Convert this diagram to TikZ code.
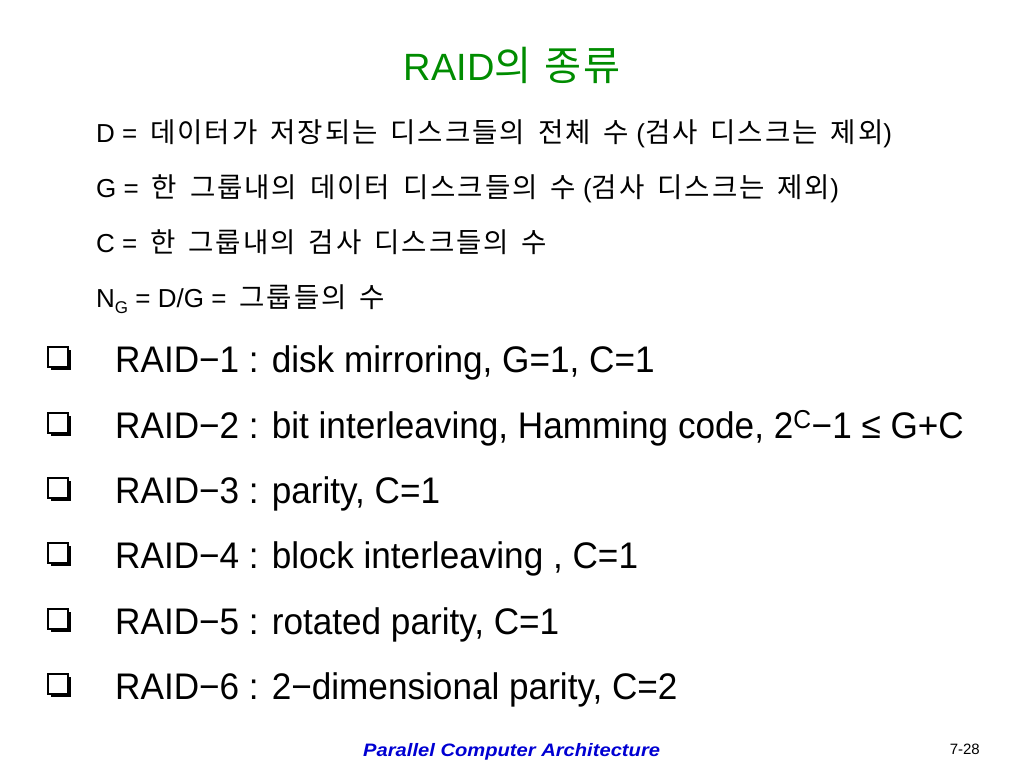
\documentclass[tikz,border=0pt]{standalone}
\usepackage{fontspec}
\setmainfont{Liberation Sans}
\newfontfamily\kr[Scale=1.06, LetterSpace=7, WordSpace=1.6]{Noto Sans CJK KR}
\newfontfamily\krtitle[Scale=1.06, LetterSpace=3, WordSpace=1.3]{Noto Sans CJK KR}
\usepackage{tikz}
\usetikzlibrary{shapes,arrows}
\usetikzlibrary{positioning}
\usetikzlibrary{shadows}
\definecolor{titlegreen}{RGB}{0,140,0}
\definecolor{footblue}{RGB}{0,0,210}
\tikzstyle{defn} = [anchor=base west, inner sep=0pt,
font=\fontsize{26}{30}\selectfont]
\tikzstyle{item} = [anchor=base west, inner sep=0pt,
font=\fontsize{37}{44}\selectfont\addfontfeature{FakeStretch=0.95}]
\newcommand{\eqgap}{=\hspace{13pt}}

\begin{document}
\begin{tikzpicture}[x=1pt, y=-1pt,
		chk/.style={draw, fill=white, line width=1.6pt, minimum size=20pt,
		inner sep=0pt, drop shadow={shadow xshift=2.6pt, shadow yshift=-2.6pt,
		fill=black, opacity=1}}]
		\useasboundingbox (0,0) rectangle (1024,768);
		\node [anchor=base, font=\fontsize{38}{42}\selectfont, text=titlegreen]
			(T) at (512,80) {RAID{\krtitle 의 종류}};
		%% Definitions
		\node [defn] (D) at (96,142) {D \eqgap{\kr 데이터가 저장되는 디스크들의 전체 수} ({\kr 검사 디스크는 제외})};
		\node [defn] (G) at (96,197) {G \eqgap{\kr 한 그룹내의 데이터 디스크들의 수} ({\kr 검사 디스크는 제외})};
		\node [defn] (C) at (96,252) {C \eqgap{\kr 한 그룹내의 검사 디스크들의 수}};
		\node [defn] (NG) at (96,307) {N\raisebox{-0.25em}{\fontsize{17}{20}\selectfont G} = D/G \eqgap{\kr 그룹들의 수}};
		%% RAID levels
		\node [chk] (B1) at (58,357) {};
		\node [chk] (B2) at (58,423) {};
		\node [chk] (B3) at (58,488) {};
		\node [chk] (B4) at (58,553) {};
		\node [chk] (B5) at (58,619) {};
		\node [chk] (B6) at (58,684) {};
		\node [item] (R1) at (115,372) {RAID−1 : disk mirroring, G=1, C=1};
		\node [item] (R2) at (115,438) {RAID−2 : bit interleaving, Hamming code, 2\textsuperscript{C}−1 ≤ G+C};
		\node [item] (R3) at (115,503) {RAID−3 : parity, C=1};
		\node [item] (R4) at (115,568) {RAID−4 : block interleaving , C=1};
		\node [item] (R5) at (115,634) {RAID−5 : rotated parity, C=1};
		\node [item] (R6) at (115,699) {RAID−6 : 2−dimensional parity, C=2};
		%% Footer
		\node [anchor=base west, inner sep=0pt, text=footblue,
			font=\fontsize{18}{21}\selectfont\bfseries\itshape\addfontfeature{FakeStretch=1.12}]
			(F) at (363,756) {Parallel Computer Architecture};
		\node [anchor=base east, inner sep=0pt, font=\fontsize{15}{18}\selectfont]
			(P) at (980,754) {7-28};
	\end{tikzpicture}
\end{document}
